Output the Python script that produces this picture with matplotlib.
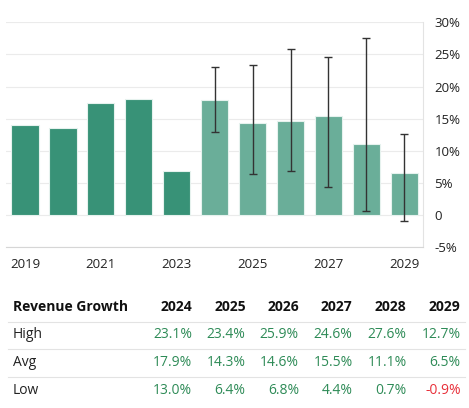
import numpy as np
import matplotlib.pyplot as plt

plt.rcParams['font.family'] = ['Open Sans', 'DejaVu Sans']

# 历史与预测数据
hist_years = [2019, 2020, 2021, 2022, 2023]
hist_growth = [14.0, 13.6, 17.5, 18.0, 6.8]

fc_years = [2024, 2025, 2026, 2027, 2028, 2029]
fc_high = [23.1, 23.4, 25.9, 24.6, 27.6, 12.7]
fc_avg = [17.9, 14.3, 14.6, 15.5, 11.1, 6.5]
fc_low = [13.0, 6.4, 6.8, 4.4, 0.7, -0.9]

y_ticks = [-5, 0, 5, 10, 15, 20, 25, 30]
x_ticks = [2019, 2021, 2023, 2025, 2027, 2029]

dark_green = '#389277'
light_green = '#6aae99'
pos_color = '#2e8b57'
neg_color = '#e8303a'

fig = plt.figure(figsize=(4.69, 4.08), dpi=100)
ax = fig.add_axes([6 / 469, 1 - 247.3 / 408, (423.3 - 6) / 469, (247.3 - 22.3) / 408])

ax.bar(hist_years, hist_growth, width=0.72, color=dark_green,
       edgecolor='#e6f2ee', linewidth=0.8, zorder=2)
ax.bar(fc_years, fc_avg, width=0.72, color=light_green,
       edgecolor='#e6f2ee', linewidth=0.8, zorder=2)

err_low = np.array(fc_avg) - np.array(fc_low)
err_high = np.array(fc_high) - np.array(fc_avg)
ax.errorbar(fc_years, fc_avg, yerr=[err_low, err_high], fmt='none',
            ecolor='#333333', elinewidth=1.0, capsize=3, capthick=1.0, zorder=3)

ax.set_xlim(2018.5, 2029.5)
ax.set_ylim(-5, 30)
ax.set_yticks(y_ticks)
ax.set_yticklabels(['0' if v == 0 else '{}%'.format(v) for v in y_ticks])
ax.yaxis.tick_right()
ax.set_xticks(x_ticks)
ax.set_xticklabels([str(v) for v in x_ticks])
ax.tick_params(axis='both', length=0, labelsize=9.5, colors='#222222')
ax.tick_params(axis='y', pad=8)
ax.tick_params(axis='x', pad=8)
ax.grid(axis='y', color='#ebebeb', linewidth=0.8, zorder=0)

for side in ['top', 'left']:
    ax.spines[side].set_visible(False)
ax.spines['right'].set_color('#e3e3e3')
ax.spines['bottom'].set_color('#d6d6d6')
ax.spines['right'].set_linewidth(0.8)
ax.spines['bottom'].set_linewidth(0.8)

# 表格
def fy(py):
    return 1 - py / 408

col_right = [192.3, 245.7, 299.0, 352.7, 406.7, 460.7]
fig.text(12.7 / 469, fy(306.7), 'Revenue Growth', fontsize=10, fontweight='bold',
         color='#111111', va='center', ha='left')
for x, yr in zip(col_right, fc_years):
    fig.text(x / 469, fy(306.7), str(yr), fontsize=10, fontweight='bold',
             color='#111111', va='center', ha='right')

rows = [('High', fc_high, 335.0), ('Avg', fc_avg, 362.7), ('Low', fc_low, 390.0)]
for name, vals, y in rows:
    fig.text(12.7 / 469, fy(y), name, fontsize=10, color='#222222', va='center', ha='left')
    for x, v in zip(col_right, vals):
        fig.text(x / 469, fy(y), '{:.1f}%'.format(v), fontsize=10,
                 color=neg_color if v < 0 else pos_color, va='center', ha='right')

for y in [321.7, 349.3, 377.3]:
    fig.add_artist(plt.Line2D([8 / 469, 465 / 469], [fy(y), fy(y)],
                              color='#e3e3e3', linewidth=0.8))

fig.savefig('out.png', dpi=100)
